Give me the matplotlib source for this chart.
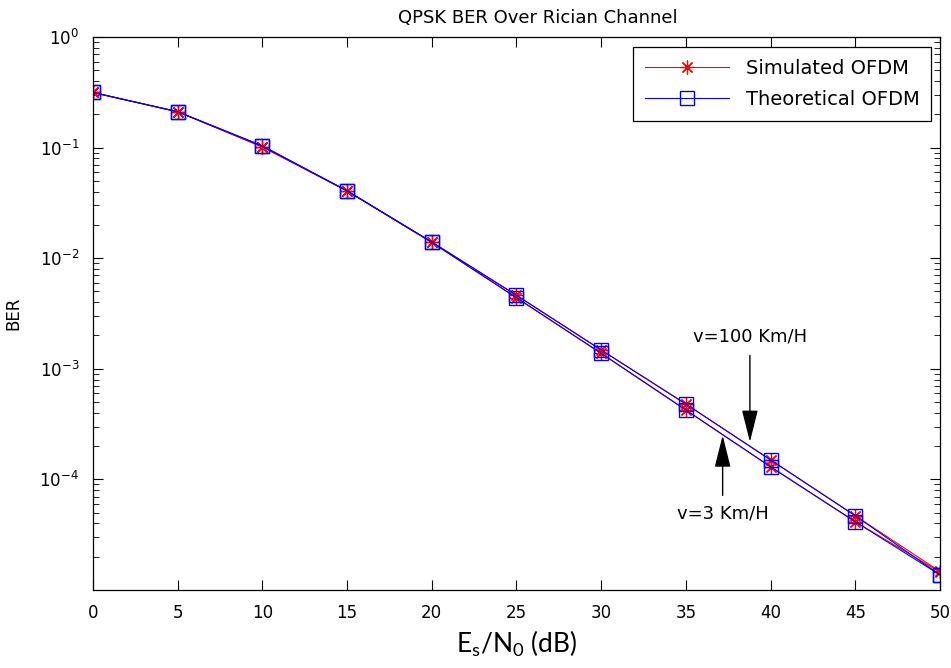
import numpy as np
import matplotlib.pyplot as plt
from matplotlib.ticker import LogLocator, NullFormatter, FixedLocator

plt.rcParams['font.family'] = ['DejaVu Sans']
plt.rcParams['mathtext.default'] = 'regular'

# Es/N0 (dB)
snr_db = np.arange(0, 51, 5)

# v = 100 Km/H
ber_sim_100 = np.array([0.315, 0.211, 0.102, 0.0407, 0.0140, 4.62e-3, 1.48e-3,
                        4.80e-4, 1.50e-4, 4.69e-5, 1.47e-5])
ber_theo_100 = np.array([0.315, 0.211, 0.104, 0.0407, 0.0140, 4.62e-3, 1.48e-3,
                         4.80e-4, 1.50e-4, 4.69e-5, 1.37e-5])

# v = 3 Km/H
ber_sim_3 = np.array([0.315, 0.211, 0.101, 0.0405, 0.0139, 4.39e-3, 1.38e-3,
                      4.24e-4, 1.30e-4, 4.14e-5, 1.45e-5])
ber_theo_3 = np.array([0.315, 0.211, 0.103, 0.0405, 0.0139, 4.39e-3, 1.38e-3,
                       4.24e-4, 1.30e-4, 4.14e-5, 1.37e-5])

fig = plt.figure(figsize=(9.51, 6.68), dpi=100)
ax = fig.add_axes([0.0978, 0.1168, 0.8906, 0.8278])

star = (8, 2, 0)  # plus + cross asterisk
ax.semilogy(snr_db, ber_sim_100, 'r-', marker=star, lw=0.8, ms=10, mew=0.9,
            label='Simulated OFDM')
ax.semilogy(snr_db, ber_sim_3, 'r-', marker=star, lw=0.8, ms=10, mew=0.9)
ax.semilogy(snr_db, ber_theo_100, 'b-s', lw=0.8, ms=10, mew=1.0, mfc='none',
            label='Theoretical OFDM')
ax.semilogy(snr_db, ber_theo_3, 'b-s', lw=0.8, ms=10, mew=1.0, mfc='none')

ax.set_xlim(0, 50)
ax.set_ylim(1e-5, 1)
ax.set_xticks(snr_db)
ax.yaxis.set_major_locator(FixedLocator([1e-4, 1e-3, 1e-2, 1e-1, 1e0]))
ax.yaxis.set_minor_locator(LogLocator(base=10, subs=np.arange(2, 10), numticks=20))
ax.yaxis.set_minor_formatter(NullFormatter())
ax.tick_params(which='both', direction='in', top=True, right=True, labelsize=12)
ax.tick_params(which='major', length=7, width=0.8)
ax.tick_params(which='minor', length=4, width=0.6)
ax.tick_params(axis='x', pad=10)
ax.tick_params(axis='y', pad=10)

ax.set_title('QPSK BER Over Rician Channel', fontsize=13, pad=10, x=0.525)
ax.set_ylabel('BER', fontsize=12, labelpad=12)
ax.set_xlabel(r'E$_\mathregular{s}$/N$_\mathregular{0}$ (dB)', fontsize=19,
              family=['Lato', 'DejaVu Sans'], labelpad=5)

# speed labels with arrows
arrow = dict(arrowstyle='-|>,head_length=0.8,head_width=0.2', color='k',
             lw=1.0, mutation_scale=25, shrinkA=0, shrinkB=0)
ax.annotate('', xy=(38.78, 2.18e-4), xytext=(38.78, 1.32e-3), arrowprops=arrow)
ax.text(38.78, 1.63e-3, 'v=100 Km/H', ha='center', va='bottom', fontsize=13)
ax.annotate('', xy=(37.17, 2.5e-4), xytext=(37.17, 7.16e-5), arrowprops=arrow)
ax.text(37.17, 5.9e-5, 'v=3 Km/H', ha='center', va='top', fontsize=13)

leg = ax.legend(loc='upper right', fontsize=14, fancybox=False, edgecolor='k',
                framealpha=1, handlelength=4.3, handletextpad=0.9, borderpad=0.6,
                labelspacing=0.65, borderaxespad=0, bbox_to_anchor=(0.99, 0.982))
leg.get_frame().set_linewidth(0.9)

for s in ax.spines.values():
    s.set_linewidth(0.9)

fig.savefig('out.png', dpi=100)
